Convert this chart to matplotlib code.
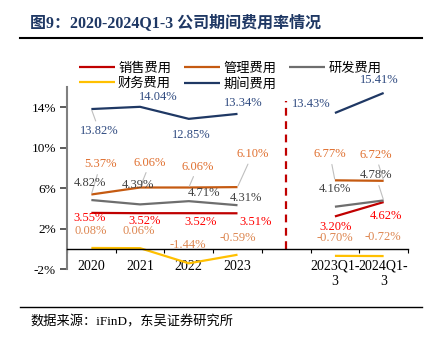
import matplotlib
matplotlib.use("Agg")
import matplotlib.pyplot as plt
import numpy as np

plt.rcParams['font.family'] = ['Liberation Serif', 'Noto Sans CJK SC', 'DejaVu Sans']
plt.rcParams['axes.unicode_minus'] = False

categories = ['2020', '2021', '2022', '2023', '', '2023Q1-\n3', '2024Q1-\n3']
annual_idx = [0, 1, 2, 3]
q_idx = [5, 6]

series_names = ['销售费用', '管理费用', '研发费用', '财务费用', '期间费用']
sales_annual = [3.55, 3.52, 3.52, 3.51]
sales_q = [3.20, 4.62]
admin_annual = [5.37, 6.06, 6.06, 6.10]
admin_q = [6.77, 6.72]
rd_annual = [4.82, 4.39, 4.71, 4.31]
rd_q = [4.16, 4.78]
fin_annual = [0.08, 0.06, -1.44, -0.59]
fin_q = [-0.70, -0.72]
period_annual = [13.82, 14.04, 12.85, 13.34]
period_q = [13.43, 15.41]

y_ticks = [-2, 2, 6, 10, 14]

line_colors = ['#C00000', '#C55A11', '#6E6E6E', '#FFC000', '#1F3864']
label_colors = ['#FF0000', '#E07030', '#404040', '#DD8650', '#2F4A80']

# label offsets in pixels (dx, dy) and whether a leader line is drawn
offsets = [
    [(-2, -5), (4, -8), (12, -9), (18, -9), (1, -11), (2, -14)],
    [(9, 30), (10, 25), (9, 21), (15, 33), (-5, 26), (-8, 26)],
    [(-1, 17), (-2, 19), (15, 8), (8, 7), (0, 18), (-8, 25)],
    [(-1, 17), (-1, 17), (-1, 18), (0, 17), (0, 18), (-1, 19)],
    [(8, -22), (18, 10), (2, -16), (6, 11), (-24, 9), (-4, 13)],
]
leaders = [
    [0, 0, 0, 0, 0, 0],
    [1, 1, 1, 1, 1, 1],
    [0, 0, 0, 0, 0, 1],
    [0, 0, 0, 0, 0, 0],
    [1, 0, 0, 0, 0, 0],
]

fig = plt.figure(figsize=(4.27, 3.40), dpi=100)
ax = fig.add_axes([67/427, 1-269/340, (408-67)/427, (269-87)/340])

all_annual = [sales_annual, admin_annual, rd_annual, fin_annual, period_annual]
all_q = [sales_q, admin_q, rd_q, fin_q, period_q]
handles = []
for k in range(5):
    h, = ax.plot(annual_idx, all_annual[k], color=line_colors[k], lw=1.6, label=series_names[k],
                 solid_capstyle='butt')
    ax.plot(q_idx, all_q[k], color=line_colors[k], lw=1.6, solid_capstyle='butt')
    handles.append(h)
    xs = annual_idx + q_idx
    vs = all_annual[k] + all_q[k]
    for j, (x, v) in enumerate(zip(xs, vs)):
        dx, dy = offsets[k][j]
        ap = None
        if leaders[k][j]:
            ap = dict(arrowstyle='-', color='#BFBFBF', lw=0.8, shrinkA=1, shrinkB=1)
        ax.annotate(f'{v:.2f}%', xy=(x, v), xytext=(dx, dy), textcoords='offset pixels',
                    ha='center', va='center', fontsize=9, color=label_colors[k],
                    family='Liberation Serif', arrowprops=ap, zorder=5)

# divider
ax.vlines(4, 0, 14.6, colors='#C00000', linestyles=(0, (3.5, 2.5)), lw=1.6)

ax.set_xlim(-0.5, len(categories) - 0.5)
ax.set_ylim(-2, 16)
ax.set_yticks(y_ticks)
ax.set_yticklabels([f'{t}%' for t in y_ticks], fontsize=9.5)
ax.set_xticks(np.arange(len(categories)))
ax.set_xticklabels(categories, fontsize=9.5, linespacing=1.0)
ax.set_xticks(np.arange(len(categories) + 1) - 0.5, minor=True)
ax.tick_params(axis='x', which='major', length=0, pad=8)
ax.tick_params(axis='x', which='minor', length=3, direction='out', width=0.8)
ax.tick_params(axis='y', length=5, direction='out', width=1.2, color='#404040', pad=3)

for s in ['top', 'right']:
    ax.spines[s].set_visible(False)
ax.spines['bottom'].set_position(('data', 0))
ax.spines['bottom'].set_linewidth(1.0)
ax.spines['left'].set_color('#808080')
ax.spines['left'].set_linewidth(1.5)

order = [0, 3, 1, 4, 2]
fig.legend([handles[i] for i in order], [series_names[i] for i in order],
           loc='center', bbox_to_anchor=(0.539, 0.776), ncol=3, frameon=False,
           fontsize=9.5, handlelength=2.7, handletextpad=0.25, columnspacing=1.0,
           labelspacing=0.25, borderpad=0)

fig.text(30/427, 1-23/340, '图9：2020-2024Q1-3 公司期间费用率情况', fontsize=11.5,
         fontweight='bold', color='#1F3864', va='center', ha='left')
fig.add_artist(plt.Line2D([20/427, 422/427], [1-38/340, 1-38/340], color='black', lw=1.5))
fig.add_artist(plt.Line2D([20/427, 422/427], [1-307/340, 1-307/340], color='black', lw=1.0))
fig.text(30/427, 1-322/340, '数据来源：iFinD，东吴证券研究所', fontsize=9.5,
         color='black', va='center', ha='left')

fig.savefig('out.png', dpi=100)
